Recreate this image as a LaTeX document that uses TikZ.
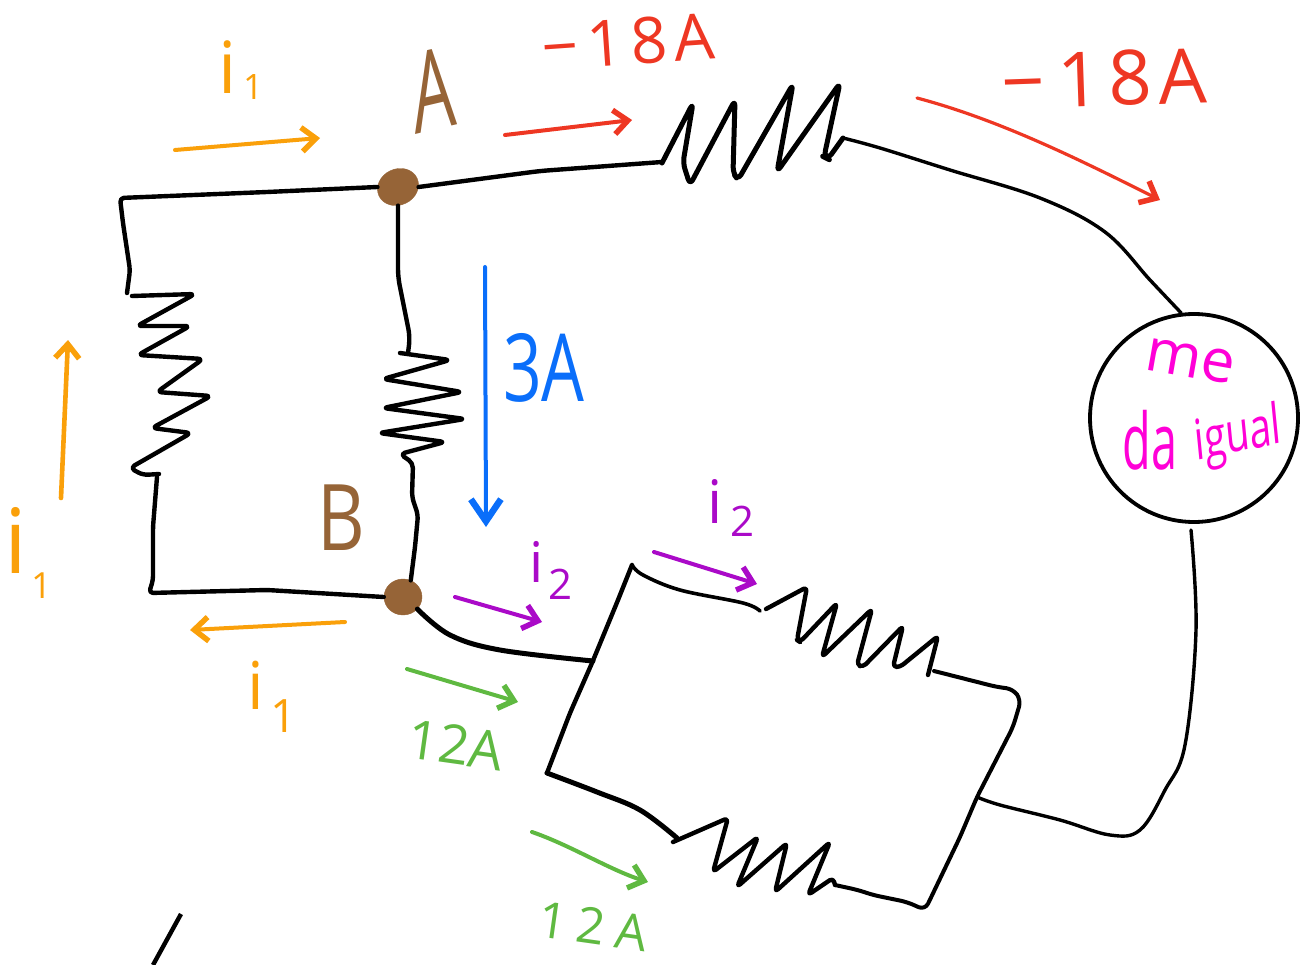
\documentclass[tikz,border=0pt]{standalone}
\usepackage{fontspec}
\setmainfont{Open Sans}
\usetikzlibrary{arrows.meta,shapes.geometric}
\newcommand{\fsz}[1]{\fontsize{#1}{#1}\selectfont}
\definecolor{hworange}{RGB}{250,160,10}
\definecolor{hwred}{RGB}{238,55,35}
\definecolor{hwblue}{RGB}{10,110,250}
\definecolor{hwpurple}{RGB}{170,10,200}
\definecolor{hwgreen}{RGB}{95,185,65}
\definecolor{hwbrown}{RGB}{150,100,55}
\definecolor{hwpink}{RGB}{255,0,215}
\tikzset{
  wire/.style={draw=black,line width=4.4pt,line cap=round,line join=round},
  thinwire/.style={wire,line width=3.4pt},
  coil/.style={wire,rounded corners=5pt},
  flow/.style={line width=4pt,line cap=round,-{Straight Barb[length=14pt,width=24pt,line width=5.5pt]}},
  blob/.style={ellipse,fill=hwbrown,draw=hwbrown,inner sep=0pt,minimum width=42pt,minimum height=36pt},
  lbl/.style={inner sep=0pt,transform shape},
}
\begin{document}
\begin{tikzpicture}[x=1pt,y=-1pt]
\useasboundingbox (0,0) rectangle (1300,965);
% circuit nodes
\node[blob,rotate=25] (A) at (398,187) {};
\node[blob,minimum width=38pt] (B) at (403,597) {};
\node[circle,draw=black,line width=3.8pt,minimum size=208pt,inner sep=0pt] (meter) at (1194,418) {};
% left branch
\draw[wire,rounded corners=4pt] (A.155) -- (267,192) -- (120,198) -- (123,223) -- (130,270) -- (127,293);
\draw[coil] (132,296) -- (195,294) -- (137,326) -- (190,326) -- (138,355) -- (203,359) -- (157,392) -- (211,396) -- (152,428) -- (191,433) -- (130,468) -- (143,475) -- (159,474);
\draw[wire,rounded corners=4pt] (157,477) -- (153,527) -- (153,580) -- (149,593) -- (267,590) -- (B.west);
% middle branch
\draw[wire,rounded corners=8pt] (A.-115) -- (398,277) -- (410,337) -- (408,353);
\draw[coil] (400,353) -- (450,360) -- (383,379) -- (462,392) -- (383,408) -- (465,419) -- (379,433) -- (445,442) -- (400,454) -- (413,463) -- (412,497) -- (418,515) -- (415,547) -- (B.65);
% top branch
\draw[wire,rounded corners=8pt] (A.-25) -- (540,171) -- (662,162);
\draw[coil,rounded corners=6pt,line width=5pt] (662,163) -- (693,103) -- (683,163) -- (690,185) -- (735,100) -- (733,173) -- (738,180) -- (793,84) -- (777,172) -- (840,83) -- (824,157) -- (828,159) -- (843,138);
\draw[thinwire] plot[smooth,tension=.6] coordinates {(843,138) (880,148) (950,170) (1040,198) (1105,232) (1150,280) (meter.97)};
\draw[thinwire] plot[smooth,tension=.6] coordinates {(1191,530) (1196,630) (1185,745) (1165,790) (1140,830) (1110,835) (1060,820) (1000,805) (977,797)};
% lower branch
\draw[wire,line width=5pt] plot[smooth,tension=.6] coordinates {(B.-40) (450,635) (500,650) (593,661)};
\draw[wire,rounded corners=6pt] (632,565) -- (618,600) -- (592,663) -- (570,713) -- (547,773);
\draw[wire,line width=5pt] plot[smooth,tension=.6] coordinates {(547,773) (597,792) (640,810) (677,838)};
\draw[wire,line width=3.6pt] plot[smooth,tension=.6] coordinates {(632,565) (643,575) (680,590) (743,603) (760,611)};
\draw[coil,rounded corners=4pt] (766,609) -- (807,587) -- (797,640) -- (800,642) -- (837,603) -- (822,657) -- (872,609) -- (857,665) -- (863,667) -- (903,626) -- (893,667) -- (900,667) -- (938,636) -- (928,675);
\draw[thinwire,line width=4pt,rounded corners=7pt] (934,671) -- (997,687) -- (1013,689) -- (1021,700) -- (1013,727) -- (977,797) -- (960,837) -- (925,910) -- (907,902) -- (873,895) -- (858,890) -- (835,885);
\draw[coil,rounded corners=4pt] (673,842) -- (728,818) -- (713,872) -- (758,837) -- (737,887) -- (787,843) -- (775,892) -- (830,842) -- (808,895) -- (833,878) -- (835,885);
% stray stroke
\draw[wire,line cap=butt] (181,914) -- (153,965);
% arrows
\draw[flow,hworange] (175,150) -- (320,138);
\draw[flow,hworange,line width=4.6pt] (61,498) -- (68,340);
\draw[flow,hworange] (345,622) -- (190,630);
\draw[flow,hwred] (505,135) -- (632,120);
\draw[flow,hwred,line width=3.2pt] (917,98) .. controls (1000,120) and (1080,160) .. (1160,200);
\draw[flow,hwblue,-{Straight Barb[length=22pt,width=30pt,line width=6.5pt]}] (485,267) -- (486,527);
\draw[flow,hwpurple] (455,597) -- (542,622);
\draw[flow,hwpurple] (654,552) -- (757,584);
\draw[flow,hwgreen] (407,669) -- (518,702);
\draw[flow,hwgreen] (532,832) .. controls (570,845) and (610,870) .. (648,882);
% labels
\node[lbl,text=hwbrown,font=\fsz{112},xscale=.6,rotate=8] (labA) at (433,90) {A};
\node[lbl,text=hwbrown,font=\fsz{92},xscale=.8] (labB) at (341,518) {B};
\node[lbl,text=hwred,font=\fsz{64},rotate=4] (cur1) at (628,42) {−\hspace{8pt}1\hspace{8pt}8\hspace{6pt}A};
\node[lbl,text=hwred,font=\fsz{76},rotate=2] (cur2) at (1104,79) {−\hspace{12pt}1\hspace{8pt}8\hspace{6pt}A};
\node[lbl,text=hwblue,font=\fsz{94},xscale=.72] (cur3) at (544,368) {3A};
\node[lbl,text=hworange,font=\fsz{72}] (ia) at (241,70) {i\hspace{6pt}\raisebox{-6pt}{\fsz{35}1}};
\node[lbl,text=hworange,font=\fsz{90}] (ib) at (28,553) {i\hspace{4pt}\raisebox{-25pt}{\fsz{36}1}};
\node[lbl,text=hworange,font=\fsz{66}] (ic) at (272,697) {i\hspace{6pt}\raisebox{-23pt}{\fsz{46}1}};
\node[lbl,text=hwpurple,font=\fsz{56}] (id) at (551,570) {i\hspace{4pt}\raisebox{-17pt}{\fsz{42}2}};
\node[lbl,text=hwpurple,font=\fsz{60}] (ie) at (731,508) {i\hspace{8pt}\raisebox{-13pt}{\fsz{42}2}};
\node[lbl,text=hwgreen,font=\fsz{54},rotate=-8] (cur4) at (456,745) {12A};
\node[lbl,text=hwgreen,font=\fsz{50},rotate=-8] (cur5) at (593,926) {1\hspace{10pt}2\hspace{10pt}A};
\node[lbl,text=hwpink,font=\fsz{60},rotate=-10] (tme) at (1190,361) {me};
\node[lbl,text=hwpink,font=\fsz{78},xscale=.6] (tda) at (1150,440) {da};
\node[lbl,text=hwpink,font=\fsz{56},xscale=.7,rotate=8] (tig) at (1238,437) {igual};
\end{tikzpicture}
\end{document}
